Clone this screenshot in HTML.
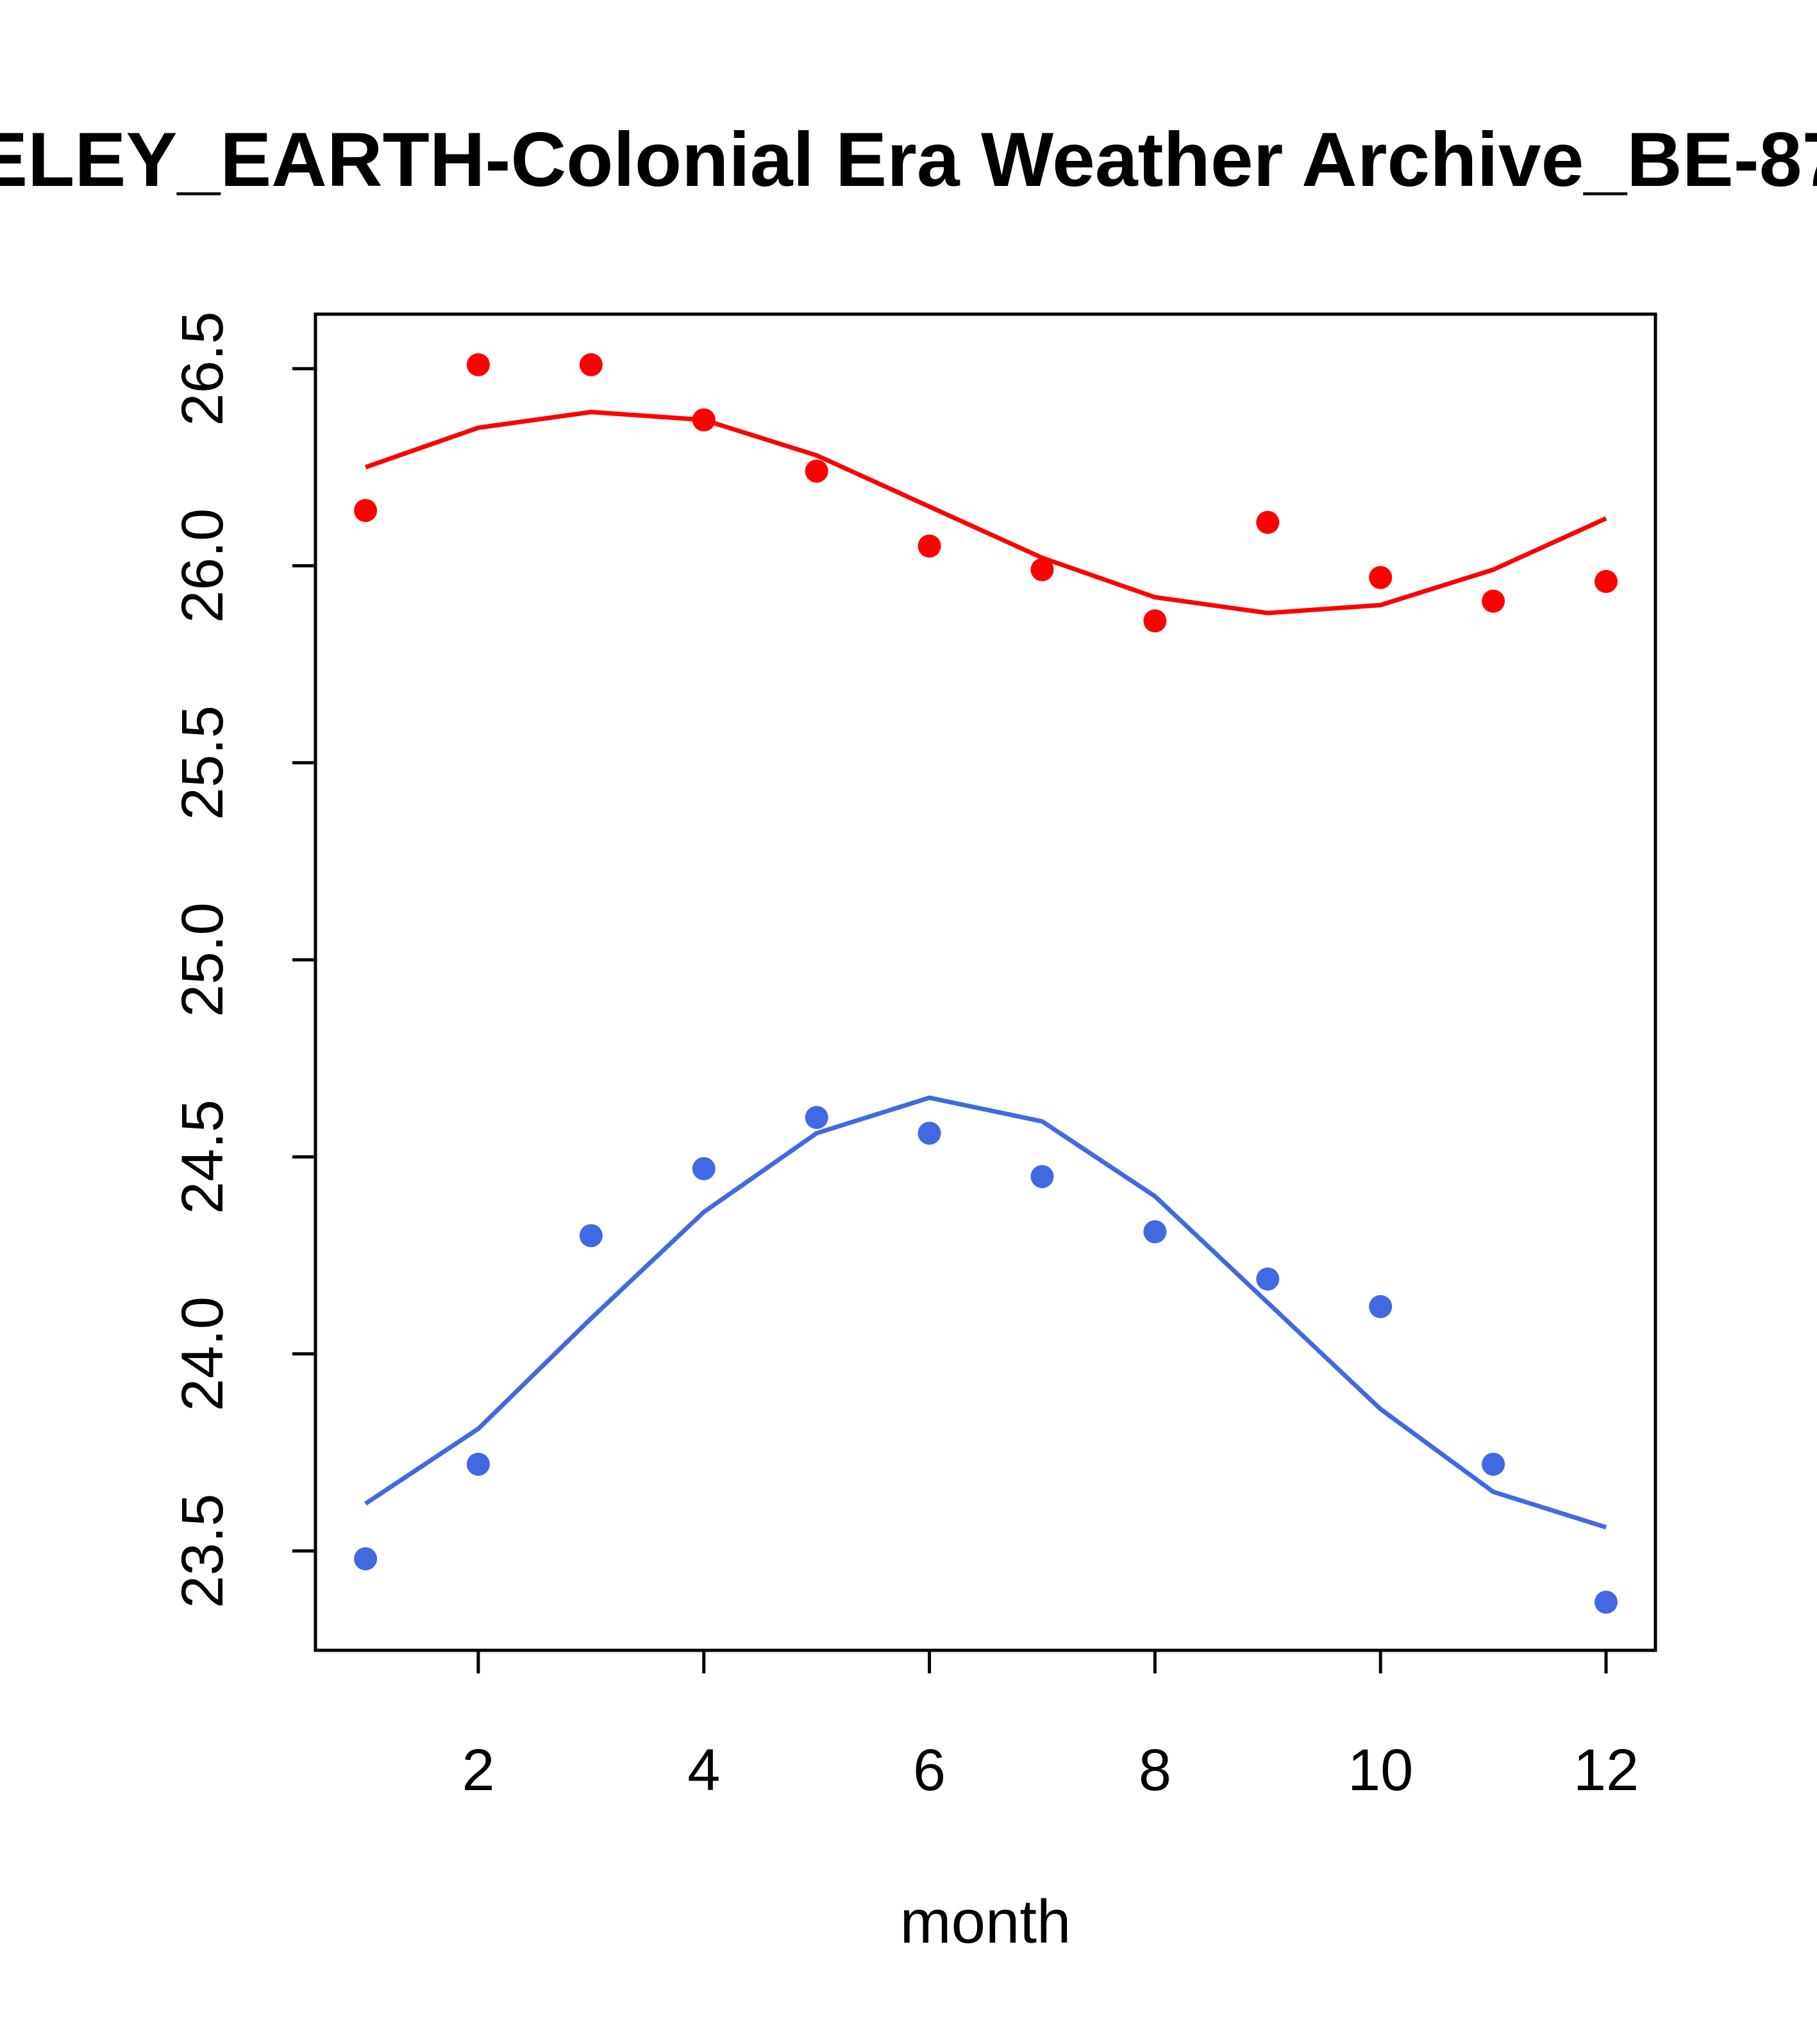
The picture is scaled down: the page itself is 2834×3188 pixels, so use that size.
<!DOCTYPE html>
<html><head><meta charset="utf-8"><style>html,body{margin:0;padding:0;background:#fff}svg{display:block}</style></head>
<body>
<svg id="chart" xmlns="http://www.w3.org/2000/svg" width="2834" height="3188" viewBox="0 0 2834 3188" font-family="Liberation Sans, Arial, sans-serif">
<rect width="2834" height="3188" fill="#fff"/>
<text x="1417" y="290" text-anchor="middle" font-weight="bold" font-size="120">BERKELEY_EARTH-Colonial Era Weather Archive_BE-8712345</text>
<rect x="492" y="490" width="2090" height="2084" fill="none" stroke="#000" stroke-width="5"/>
<g id="g"></g>
<text x="1537" y="3030" text-anchor="middle" font-size="96">month</text>
</svg>
<script>
const months=[1,2,3,4,5,6,7,8,9,10,11,12];
const redPoints=[26.14,26.51,26.51,26.37,26.24,26.05,25.99,25.86,26.11,25.97,25.91,25.96];
const redLine=[26.25,26.35,26.39,26.37,26.28,26.15,26.02,25.92,25.88,25.90,25.99,26.12];
const bluePoints=[23.48,23.72,24.30,24.47,24.60,24.56,24.45,24.31,24.19,24.12,23.72,23.37];
const blueLine=[23.62,23.81,24.09,24.36,24.56,24.65,24.59,24.40,24.13,23.86,23.65,23.56];
const xTicks=[2,4,6,8,10,12];
const yTicks=[23.5,24.0,24.5,25.0,25.5,26.0,26.5];
const yTickLabels=["23.5","24.0","24.5","25.0","25.5","26.0","26.5"];
const NS="http://www.w3.org/2000/svg";
const g=document.getElementById('g');
const X=m=>746+(m-2)*(2505-746)/10;
const Y=v=>2419-(v-23.5)*(2419-575)/3;
function mk(t,a){const e=document.createElementNS(NS,t);for(const k in a)e.setAttribute(k,a[k]);g.appendChild(e);return e;}
xTicks.forEach(t=>{
 const l=mk('line',{x1:X(t),x2:X(t),y1:2574,y2:2610,stroke:'#000','stroke-width':5});
 
 
 const tx=mk('text',{x:X(t),y:2792,'text-anchor':'middle','font-size':92});
 tx.textContent=t;
 
 
});
yTicks.forEach((t,i)=>{
 const l=mk('line',{x1:456,x2:492,y1:Y(t),y2:Y(t),stroke:'#000','stroke-width':5});
 
 
 const tx=mk('text',{x:0,y:0,'text-anchor':'middle','font-size':92,transform:`translate(347,${Y(t)}) rotate(-90)`});
 tx.textContent=yTickLabels[i];
 
 
});
function series(pts,line,color,name){
 const p=mk('polyline',{points:months.map((m,i)=>X(m)+','+Y(line[i])).join(' '),fill:'none',stroke:color,'stroke-width':7});
 
 
 months.forEach((m,i)=>{
  const c=mk('circle',{cx:X(m),cy:Y(pts[i]),r:18,fill:color});
  
  
 });
}
series(redPoints,redLine,'#FF0000','red');
series(bluePoints,blueLine,'#4169E1','blue');
</script>
</body></html>
